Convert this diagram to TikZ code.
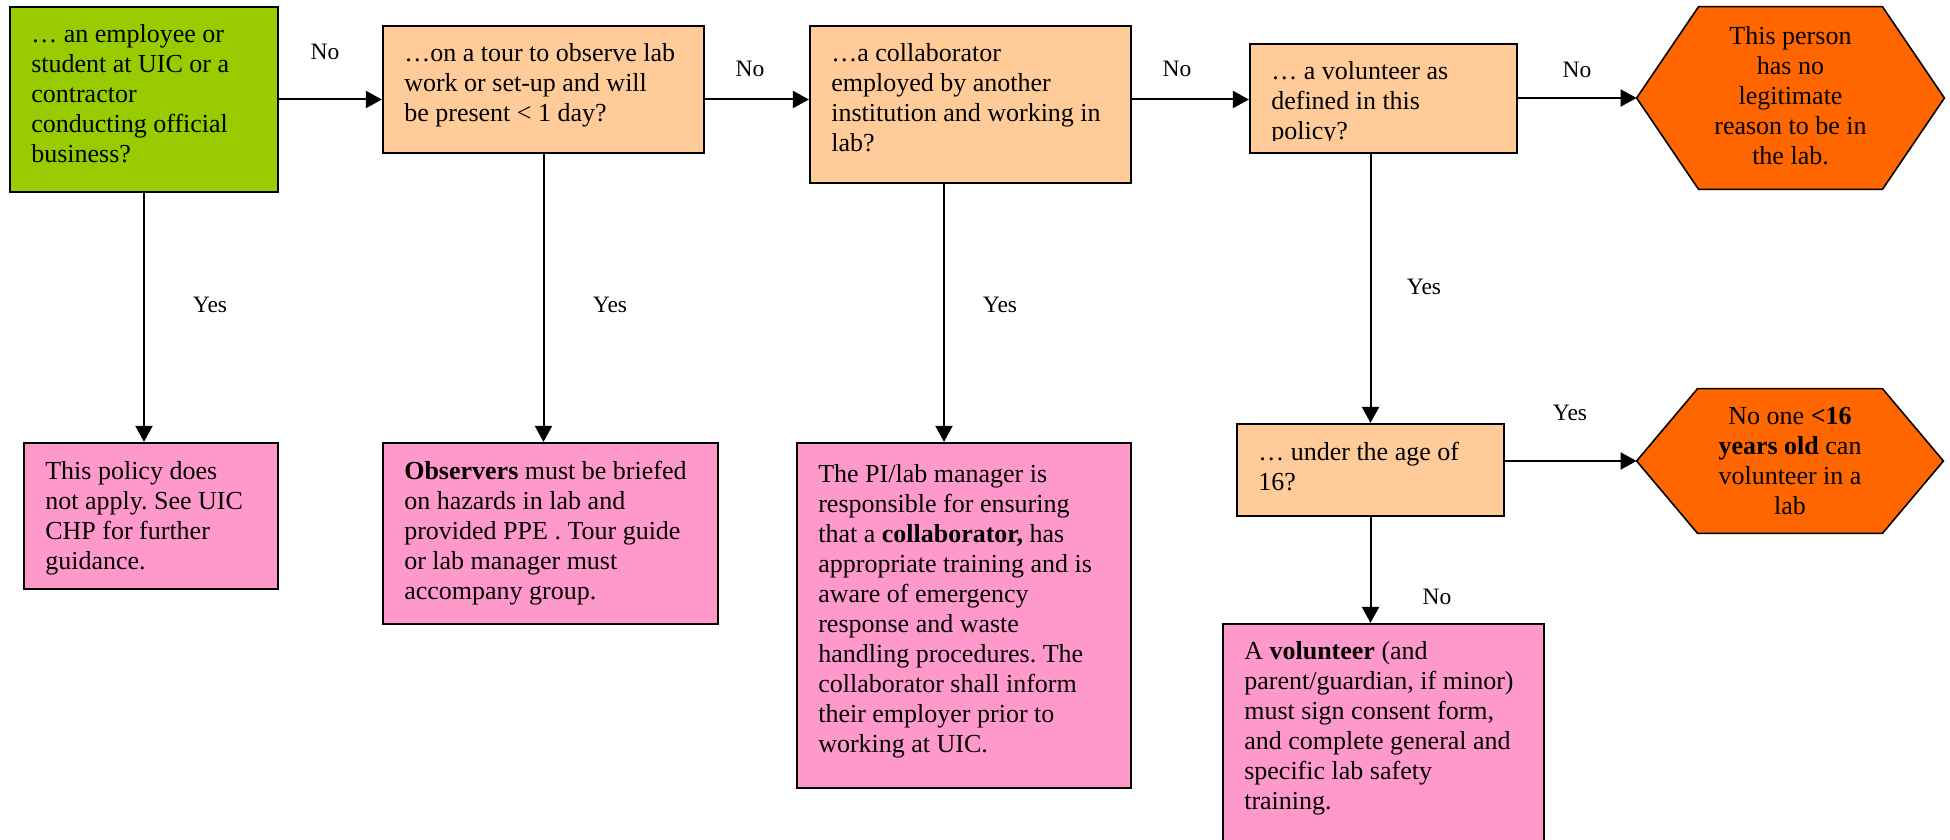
\documentclass[tikz,border=0pt]{standalone}
\usepackage{fontspec}
\setmainfont{Liberation Serif}
\usetikzlibrary{arrows.meta}
\definecolor{qgreen}{HTML}{99CC00}
\definecolor{qpeach}{HTML}{FFCC99}
\definecolor{qpink}{HTML}{FF99CC}
\definecolor{qorange}{HTML}{FF6600}
\frenchspacing
\tikzset{
  boxs/.style={draw=black, line width=1.1pt, inner sep=0pt, rectangle},
  qbox/.style={boxs, fill=qpeach},
  gbox/.style={boxs, fill=qgreen},
  pbox/.style={boxs, fill=qpink},
  hexframe/.style={inner sep=0pt, draw=none, rectangle},
  hexs/.style={draw=black, line width=0.8pt, fill=qorange},
  txt/.style={inner sep=0pt, anchor=north west, align=left, font=\fontsize{13pt}{15pt}\selectfont},
  htxt/.style={inner sep=0pt, align=center, font=\fontsize{13pt}{15pt}\selectfont},
  lbl/.style={inner sep=0pt, font=\fontsize{11.75pt}{14pt}\selectfont},
  arr/.style={line width=1pt, -{Triangle[length=8pt,width=8.5pt]}}
}
\begin{document}
\begin{tikzpicture}[x=0.5pt,y=-0.5pt]
\useasboundingbox (0,0) rectangle (1950,840);
\clip (0,0) rectangle (1950,840);
\fill[white] (0,0) rectangle (1950,840);

% question boxes
\node[gbox, minimum width=134pt, minimum height=92.5pt] (b1) at (144,99.5) {};
\node[qbox, minimum width=160.5pt, minimum height=63.5pt] (b2) at (543.5,89.5) {};
\node[qbox, minimum width=160.5pt, minimum height=78.5pt] (b3) at (970.5,104.5) {};
\node[qbox, minimum width=133.5pt, minimum height=54.5pt] (b4) at (1383.5,98.5) {};
\node[qbox, minimum width=133.5pt, minimum height=46pt] (b5) at (1370.5,470) {};

% outcome boxes
\node[pbox, minimum width=127pt, minimum height=73pt] (b7) at (151,516) {};
\node[pbox, minimum width=167.5pt, minimum height=90.5pt] (b8) at (550.5,533.5) {};
\node[pbox, minimum width=167pt, minimum height=172.5pt] (b9) at (964,615.5) {};
\node[pbox, minimum width=160.5pt, minimum height=113pt] (b6) at (1383.5,737) {};

% hexagons
\node[hexframe, minimum width=153.5pt, minimum height=91pt] (h1) at (1790.5,98) {};
\draw[hexs] (h1.west) -- ([xshift=31pt]h1.north west) -- ([xshift=-31pt]h1.north east)
  -- (h1.east) -- ([xshift=-31pt]h1.south east) -- ([xshift=31pt]h1.south west) -- cycle;
\node[hexframe, minimum width=153pt, minimum height=72pt] (h2) at (1790,461) {};
\draw[hexs] (h2.west) -- ([xshift=30.5pt]h2.north west) -- ([xshift=-30.5pt]h2.north east)
  -- (h2.east) -- ([xshift=-30.5pt]h2.south east) -- ([xshift=30.5pt]h2.south west) -- cycle;

% texts
\node[txt] (t1) at ([xshift=11pt,yshift=-7.75pt]b1.north west)
  {\strut… an employee or\\student at UIC or a\\contractor\\conducting official\\business?};
\node[txt] (t2) at ([xshift=11pt,yshift=-7.75pt]b2.north west)
  {\strut…on a tour to observe lab\\work or set-up and will\\be present < 1 day?};
\node[txt] (t3) at ([xshift=11pt,yshift=-7.75pt]b3.north west)
  {\strut…a collaborator\\employed by another\\institution and working in\\lab?};
\begin{scope}
\clip (1250,44) rectangle (1517,141);
\node[txt] (t4) at ([xshift=11pt,yshift=-7.75pt]b4.north west)
  {\strut… a volunteer as\\defined in this\\policy?};
\end{scope}
\node[txt] (t5) at ([xshift=11pt,yshift=-8pt]b5.north west)
  {\strut… under the age of\\16?};
\node[txt] (t7) at ([xshift=11pt,yshift=-8pt]b7.north west)
  {\strut This policy does\\not apply. See UIC\\CHP for further\\guidance.};
\node[txt] (t8) at ([xshift=11pt,yshift=-8pt]b8.north west)
  {\strut\textbf{Observers} must be briefed\\on hazards in lab and\\provided PPE . Tour guide\\or lab manager must\\accompany group.};
\node[txt] (t9) at ([xshift=11pt,yshift=-9.5pt]b9.north west)
  {\strut The PI/lab manager is\\responsible for ensuring\\that a \textbf{collaborator,} has\\appropriate training and is\\aware of emergency\\response and waste\\handling procedures. The\\collaborator shall inform\\their employer prior to\\working at UIC.};
\node[txt] (t6) at ([xshift=11pt,yshift=-7.75pt]b6.north west)
  {\strut A \textbf{volunteer} (and\\parent/guardian, if minor)\\must sign consent form,\\and complete general and\\specific lab safety\\training.};
\node[htxt] (th1) at (h1.center)
  {\strut This person\\has no\\legitimate\\reason to be in\\the lab.\strut};
\node[htxt] (th2) at ([yshift=-1pt]h2.center)
  {\strut No one \textbf{<16}\\\textbf{years old} can\\volunteer in a\\lab\strut};

% connectors
\draw[arr] (b1.east) -- (b1.east -| b2.west);
\draw[arr] (b1.east -| b2.east) -- (b1.east -| b3.west);
\draw[arr] (b1.east -| b3.east) -- (b1.east -| b4.west);
\draw[arr] (b4.east |- h1.west) -- (h1.west);
\draw[arr] (b1.south) -- (b1.south |- b7.north);
\draw[arr] (b2.south) -- (b2.south |- b8.north);
\draw[arr] ([xshift=-13.25pt]b3.south) -- ([xshift=-13.25pt]b3.south |- b9.north);
\draw[arr] (b4.south -| b5.north) -- (b5.north);
\draw[arr] (b5.south) -- (b5.south |- b6.north);
\draw[arr] (b5.east |- h2.west) -- (h2.west);

% labels
\node[lbl] (l1) at (325,52) {No};
\node[lbl] (l2) at (750,69) {No};
\node[lbl] (l3) at (1177,69) {No};
\node[lbl] (l4) at (1577,70) {No};
\node[lbl] (l5) at (210,305) {Yes};
\node[lbl] (l6) at (610,305) {Yes};
\node[lbl] (l7) at (1000,305) {Yes};
\node[lbl] (l8) at (1424,287) {Yes};
\node[lbl] (l9) at (1570,413) {Yes};
\node[lbl] (l10) at (1437,597) {No};
\end{tikzpicture}
\end{document}
